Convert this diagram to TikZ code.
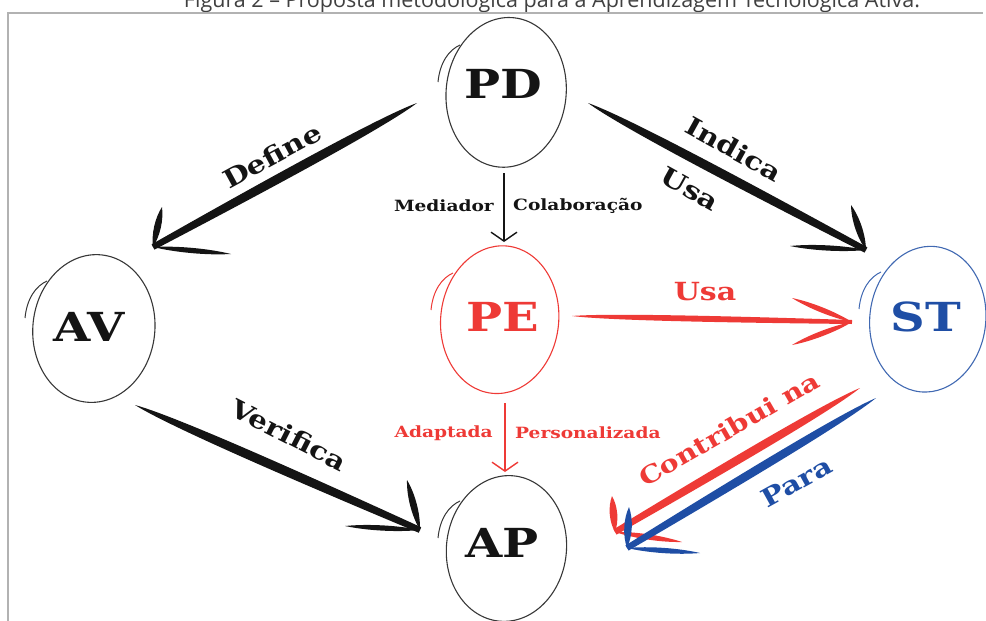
\documentclass[tikz,border=0pt]{standalone}
\usepackage{fontspec}
\setmainfont{DejaVu Serif}
\newfontfamily\capfont{Open Sans}
\usetikzlibrary{calc,arrows.meta}
\definecolor{myred}{HTML}{EE3A36}
\definecolor{myblue}{HTML}{1F4EA5}
\definecolor{ink}{HTML}{141414}
\newcommand\W[1]{\scalebox{1.2}[1]{#1}}
% symmetric brush (pointed at both ends)
\newcommand\brush[4]{%
  \fill[#4] (#1) .. controls ($(#1)!0.3!(#2)!#3!90:(#2)$) and ($(#1)!0.7!(#2)!#3!90:(#2)$) .. (#2)
     .. controls ($(#1)!0.7!(#2)!#3!-90:(#2)$) and ($(#1)!0.3!(#2)!#3!-90:(#2)$) .. (#1) -- cycle;}
% shaft: pointed tail (#1), blunt end (#2); #3 = max half width, #4 = half width at end
\newcommand\shaft[5]{%
  \fill[#5] (#1) .. controls ($(#1)!0.12!(#2)!#3!90:(#2)$) and ($(#1)!0.5!(#2)!#3!90:(#2)$) .. ($(#2)!#4!-90:(#1)$)
     -- ($(#2)!#4!90:(#1)$)
     .. controls ($(#1)!0.5!(#2)!#3!-90:(#2)$) and ($(#1)!0.12!(#2)!#3!-90:(#2)$) .. (#1) -- cycle;}
\tikzset{
  big/.style={font=\bfseries\fontsize{40}{42}\selectfont, inner sep=0},
  lbl/.style={font=\bfseries\fontsize{25}{27}\selectfont, inner sep=0},
  sml/.style={font=\bfseries\fontsize{15.5}{17}\selectfont, inner sep=0},
  thin/.style={line width=1.4pt, -{Straight Barb[length=9pt,width=26pt]}},
}
\begin{document}
\begin{tikzpicture}[x=1pt,y=-1pt]
\useasboundingbox (0,0) rectangle (986,621);
\clip (0,0) rectangle (986,621);
% caption and frame
\node[font=\capfont\fontsize{21.5}{24}\selectfont, text=black!75, anchor=base, inner sep=0] (cap) at (552,7) {Figura 2 – Proposta metodológica para a Aprendizagem Tecnológica Ativa.};
\draw[black!30, line width=1.3pt] (8,621) -- (8,13) -- (983,13);

% nodes
\node[big, text=ink] (PD) at (503,84) {\W{PD}};
\node[big, text=ink] (AV) at (89,327) {\W{AV}};
\node[big, text=myred] (PE) at (503,317) {\W{PE}};
\node[big, text=myblue] (ST) at (926,317) {\W{ST}};
\node[big, text=ink] (AP) at (502,543) {\W{AP}};

% hand drawn ellipses
\foreach \n/\dx/\dy/\rx/\ry/\c in {PD/4/8/60/75/ink!85, AV/5/1/61/74/ink!85, PE/-3/3/59/74/myred, ST/2/2/58/73/myblue!85, AP/5/5/60/73/ink!85}{
  \draw[line width=1.1pt, draw=\c, rotate around={-6:($(\n.center)+(\dx,\dy)$)}] ($(\n.center)+(\dx,\dy)$) ellipse[x radius=\rx, y radius=\ry];
  \draw[line width=1.0pt, draw=\c] ($(\n.center)+(\dx-69,\dy-10)$) .. controls ($(\n.center)+(\dx-67,\dy-30)$) and ($(\n.center)+(\dx-58,\dy-42)$) .. ($(\n.center)+(\dx-47,\dy-47)$);
}

% thin arrows
\coordinate (m1) at (504,173); \coordinate (m2) at (504,242);
\draw[ink, thin] (m1) -- (m2);
\node[sml, text=ink, anchor=east] (lm) at (494,206) {\W{Mediador}};
\node[sml, text=ink, anchor=west] (lc) at (513,206) {\W{Colaboração}};
\coordinate (a1) at (505,403); \coordinate (a2) at (505,472);
\draw[myred, thin] (a1) -- (a2);
\node[sml, text=myred, anchor=east] (la) at (493,433) {\W{Adaptada}};
\node[sml, text=myred, anchor=west] (lp) at (515,433) {\W{Personalizada}};

% Define
\coordinate (d1) at (417,103); \coordinate (d2) at (153,247);
\coordinate (d3) at (162,207); \coordinate (d4) at (231,254);
\shaft{d1}{d2}{5.5pt}{3pt}{ink}\brush{d2}{d3}{4.5pt}{ink}\brush{d2}{d4}{3.5pt}{ink}
\node[lbl, text=ink, rotate=28.6] (ldef) at (272,156) {\W{Define}};

% Indica / Usa
\coordinate (i1) at (588,103); \coordinate (i2) at (866,250);
\coordinate (i3) at (851,205); \coordinate (i4) at (790,246);
\shaft{i1}{i2}{5.5pt}{3pt}{ink}\brush{i2}{i3}{4.5pt}{ink}\brush{i2}{i4}{3.5pt}{ink}
\node[lbl, text=ink, rotate=-29] (lind) at (734,149) {\W{Indica}};
\node[lbl, text=ink, rotate=-29] (lusa) at (690,189) {\W{Usa}};

% Verifica
\coordinate (v1) at (135,405); \coordinate (v2) at (420,530);
\coordinate (v3) at (407,480); \coordinate (v4) at (345,526);
\shaft{v1}{v2}{5.5pt}{3pt}{ink}\brush{v2}{v3}{4.5pt}{ink}\brush{v2}{v4}{3.5pt}{ink}
\node[lbl, text=ink, rotate=-27] (lver) at (289,435) {\W{Verifica}};

% PE -> ST Usa
\coordinate (u1) at (572,316); \coordinate (u2) at (852,322);
\coordinate (u3) at (792,298); \coordinate (u4) at (792,345);
\shaft{u1}{u2}{3.5pt}{2pt}{myred}\brush{u2}{u3}{3.5pt}{myred}\brush{u2}{u4}{3.5pt}{myred}
\node[lbl, text=myred] (lusr) at (705,292) {\W{Usa}};

% ST -> AP Contribui na / Para
\coordinate (c1) at (860,388); \coordinate (c2) at (615,532);
\coordinate (c3) at (612,496); \coordinate (c4) at (682,542);
\shaft{c1}{c2}{5pt}{3pt}{myred}\brush{c2}{c3}{5pt}{myred}\brush{c2}{c4}{3.5pt}{myred}
\coordinate (p1) at (876,398); \coordinate (p2) at (627,548);
\coordinate (p3) at (629,507); \coordinate (p4) at (700,553);
\shaft{p1}{p2}{5pt}{3pt}{myblue}\brush{p2}{p3}{5pt}{myblue}\brush{p2}{p4}{3.5pt}{myblue}
\node[lbl, text=myred, rotate=30, font=\bfseries\fontsize{24}{26}\selectfont] (lcon) at (729,429) {\W{Contribui na}};
\node[lbl, text=myblue, rotate=29] (lpar) at (797,482) {\W{Para}};
\end{tikzpicture}
\end{document}
